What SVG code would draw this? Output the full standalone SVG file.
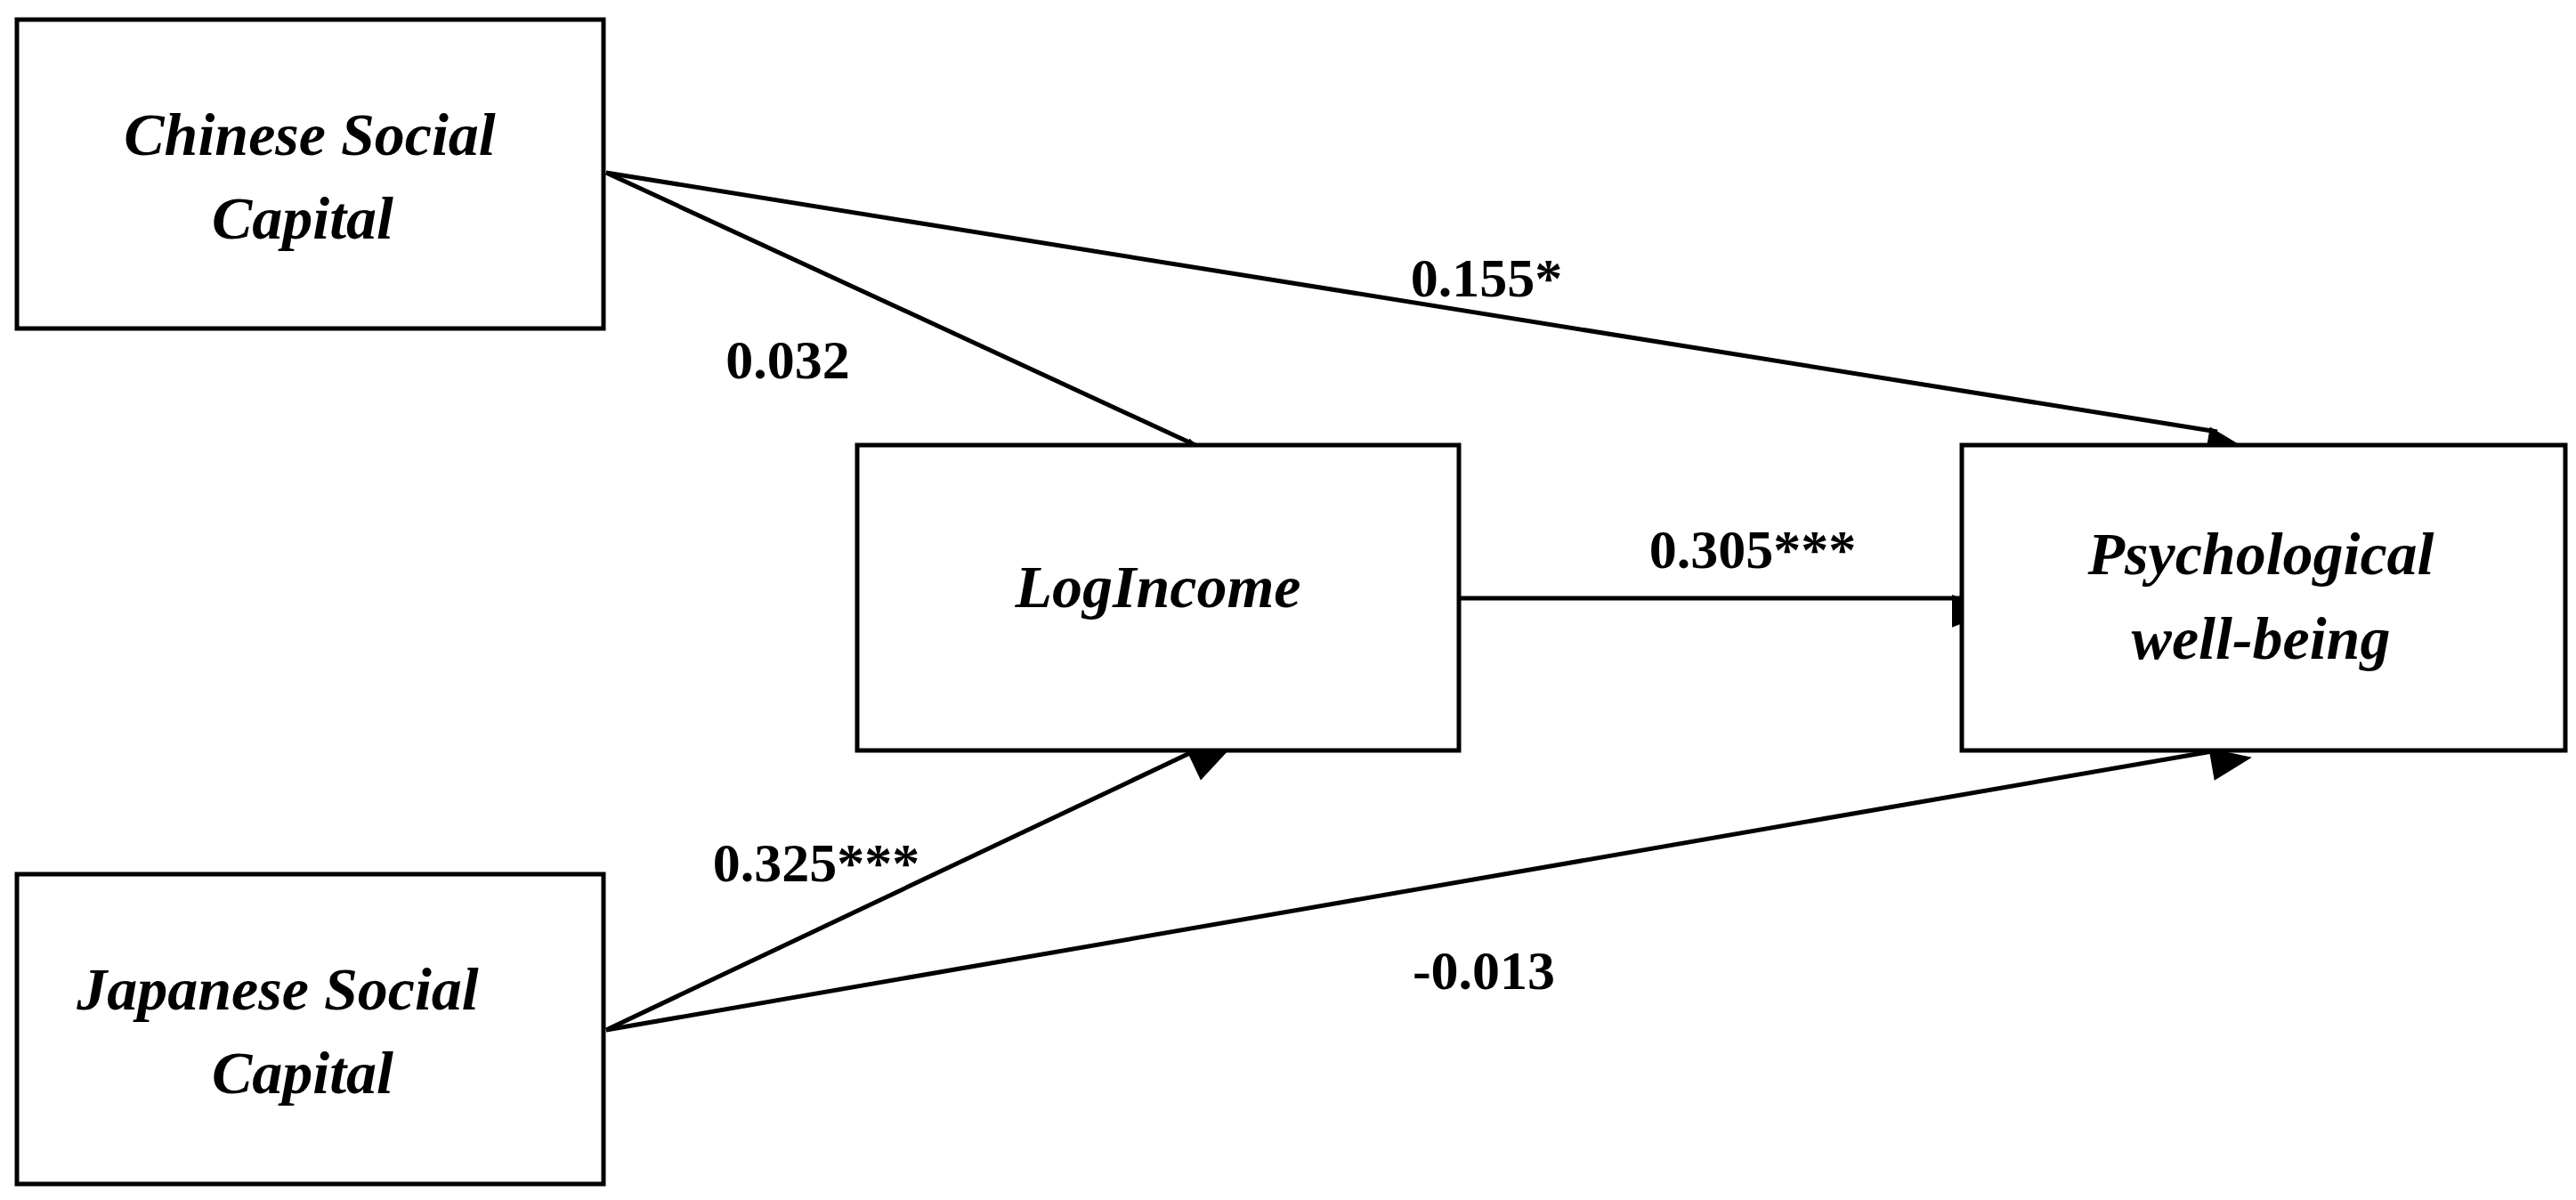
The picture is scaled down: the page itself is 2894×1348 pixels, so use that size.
<svg xmlns="http://www.w3.org/2000/svg" width="2894" height="1348" viewBox="0 0 2894 1348">
<style>
.box{fill:#fff;stroke:#000;stroke-width:5}
.n{font-family:"Liberation Serif",serif;font-weight:bold;font-style:italic;font-size:68px;text-anchor:middle}
.l{font-family:"Liberation Serif",serif;font-weight:bold;font-size:62px;text-anchor:middle}
.c{stroke:#000;stroke-width:5;fill:none;marker-end:url(#ah)}
</style>
<defs><marker id="ah" markerWidth="10" markerHeight="8" refX="9" refY="4" orient="auto" markerUnits="userSpaceOnUse" viewBox="0 0 10 8" style="overflow:visible"><path d="M0,0 L10,4 L0,8 Z" transform="scale(4.6)" fill="#000"/></marker></defs>
<rect width="2894" height="1348" fill="#fff"/>
<g id="connectors">
<line class="c" x1="681" y1="194" x2="1343" y2="500"/>
<line class="c" x1="681" y1="194" x2="2491" y2="485"/>
<line class="c" x1="1639" y1="672" x2="2202" y2="672"/>
<line class="c" x1="681" y1="1157" x2="1343" y2="843"/>
<line class="c" x1="681" y1="1157" x2="2491" y2="843"/>
</g>
<g id="chinese"><rect class="box" x="19" y="22" width="659" height="347"/><text class="n" x="348" y="174">Chinese Social</text><text class="n" x="340" y="268">Capital</text></g>
<g id="logincome"><rect class="box" x="963" y="500" width="676" height="343"/><text class="n" x="1301" y="682">LogIncome</text></g>
<g id="psych"><rect class="box" x="2204" y="500" width="678" height="343"/><text class="n" x="2540" y="645">Psychological</text><text class="n" x="2540" y="740">well-being</text></g>
<g id="japanese"><rect class="box" x="19" y="982" width="659" height="348"/><text class="n" x="312" y="1134">Japanese Social</text><text class="n" x="340" y="1228">Capital</text></g>
<g id="labels">
<text class="l" x="1670" y="333">0.155*</text>
<text class="l" x="885" y="425">0.032</text>
<text class="l" x="1969" y="638">0.305***</text>
<text class="l" x="917" y="990">0.325***</text>
<text class="l" x="1667" y="1111">-0.013</text>
</g>
</svg>
